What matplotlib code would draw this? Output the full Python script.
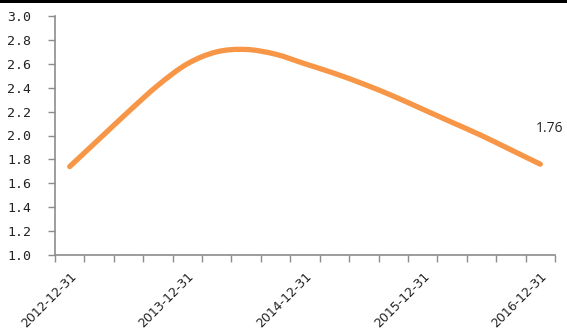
import matplotlib
matplotlib.use("Agg")
import matplotlib.pyplot as plt
from matplotlib.path import Path
from matplotlib.patches import PathPatch, Rectangle
from matplotlib.transforms import ScaledTranslation

# quarterly values, 2012-12-31 .. 2016-12-31
values = [1.74, 1.97, 2.20, 2.42, 2.60, 2.70, 2.72, 2.68, 2.60,
          2.52, 2.43, 2.33, 2.22, 2.11, 2.00, 1.88, 1.76]
year_labels = ["2012-12-31", "2013-12-31", "2014-12-31", "2015-12-31", "2016-12-31"]
label_every = 4

line_color = "#F79646"
axis_color = "#8C8C8C"

xs = list(range(len(values)))


def smooth_path(x, y):
    # cubic bezier through the points, tangents taken from the neighbours
    n = len(x)
    px = [x[0]] + list(x) + [x[-1]]
    py = [y[0]] + list(y) + [y[-1]]
    verts = [(x[0], y[0])]
    codes = [Path.MOVETO]
    for i in range(n - 1):
        j = i + 1
        c1 = (px[j] + (px[j + 1] - px[j - 1]) / 6, py[j] + (py[j + 1] - py[j - 1]) / 6)
        c2 = (px[j + 1] - (px[j + 2] - px[j]) / 6, py[j + 1] - (py[j + 2] - py[j]) / 6)
        verts += [c1, c2, (x[i + 1], y[i + 1])]
        codes += [Path.CURVE4] * 3
    return Path(verts, codes)


fig = plt.figure(figsize=(5.67, 3.34), dpi=100)
ax = fig.add_axes([55 / 567, 79 / 334, 500 / 567, 239 / 334])

ax.add_patch(PathPatch(smooth_path(xs, values), facecolor="none", edgecolor=line_color,
                       lw=3.8, capstyle="round", joinstyle="round"))

ax.set_xlim(-0.5, len(values) - 0.5)
ax.set_ylim(1.0, 3.0)
ax.set_yticks([1.0 + 0.2 * k for k in range(11)])
ax.set_yticklabels([f"{1.0 + 0.2 * k:.1f}" for k in range(11)], family="DejaVu Sans Mono")

# tick marks sit between categories, labels on every fourth category
ax.set_xticks([k - 0.5 for k in range(len(values) + 1)])
ax.set_xticklabels([])
ax.set_xticks(xs[::label_every], minor=True)
ax.set_xticklabels(year_labels, minor=True, rotation=45, ha="right", va="top",
                   rotation_mode="anchor")
shift = ScaledTranslation(-5 / 100, 0, fig.dpi_scale_trans)
for lbl in ax.get_xticklabels(minor=True):
    lbl.set_transform(lbl.get_transform() + shift)
ax.tick_params(axis="x", which="minor", length=0, pad=11, labelsize=9, labelcolor="#222222")
ax.tick_params(axis="x", which="major", length=5, width=1, color=axis_color, direction="out")
ax.tick_params(axis="y", length=5, width=1, color=axis_color, pad=12, labelsize=9.5,
               labelcolor="#222222")

for side in ["top", "right"]:
    ax.spines[side].set_visible(False)
for side in ["left", "bottom"]:
    ax.spines[side].set_color(axis_color)
    ax.spines[side].set_linewidth(1.2)

ax.annotate(f"{values[-1]:.2f}", xy=(xs[-1], values[-1]), xytext=(7, 20),
            textcoords="offset points", ha="center", va="bottom", fontsize=10,
            color="#222222", family="Open Sans", annotation_clip=False)

# black rule across the top
fig.patches.append(Rectangle((0, 1 - 3 / 334), 1, 3 / 334, transform=fig.transFigure,
                             facecolor="black", edgecolor="none"))

fig.savefig("out.png", dpi=100)
